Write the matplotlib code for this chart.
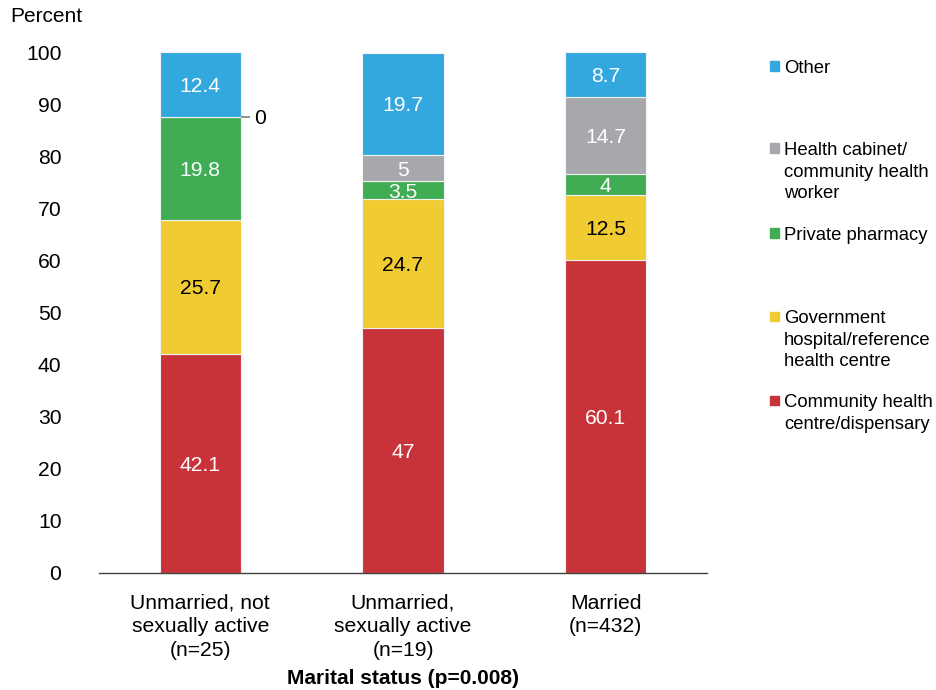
import matplotlib
matplotlib.use("Agg")
import matplotlib.pyplot as plt
import numpy as np

plt.rcParams['font.family'] = ['Liberation Sans', 'DejaVu Sans']

categories = ["Unmarried, not\nsexually active\n(n=25)",
              "Unmarried,\nsexually active\n(n=19)",
              "Married\n(n=432)"]
series_names = ["Community health\ncentre/dispensary",
                "Government\nhospital/reference\nhealth centre",
                "Private pharmacy",
                "Health cabinet/\ncommunity health\nworker",
                "Other"]
community = [42.1, 47, 60.1]
government = [25.7, 24.7, 12.5]
pharmacy = [19.8, 3.5, 4]
cabinet = [0, 5, 14.7]
other = [12.4, 19.7, 8.7]
yticks = [0, 10, 20, 30, 40, 50, 60, 70, 80, 90, 100]

colors = ["#C8333A", "#F0CB31", "#40AD55", "#A7A8AB", "#33A8DF"]
text_colors = ["white", "black", "white", "white", "white"]

fig = plt.figure(figsize=(9.36, 6.9), dpi=100)
W, H = 936, 690
ax = fig.add_axes([99 / W, 1 - 573 / H, (707 - 99) / W, (573 - 52) / H])

x = np.arange(len(categories))
bar_w = 0.4
bottom = np.zeros(len(categories))
all_series = [community, government, pharmacy, cabinet, other]
for vals, col, tcol in zip(all_series, colors, text_colors):
    vals = np.array(vals, dtype=float)
    ax.bar(x, vals, bar_w, bottom=bottom, color=col, edgecolor="#F2F2F2",
           linewidth=0.8)
    for xi, v, b in zip(x, vals, bottom):
        if v > 0:
            ax.text(xi, b + v / 2, f"{v:g}", ha="center",
                    va="center_baseline", color=tcol, fontsize=15.2)
        else:
            # zero-height segment: label outside with a short leader line
            ax.plot([xi + bar_w / 2, xi + bar_w / 2 + 0.045], [b, b],
                    color="#808080", lw=1.2, solid_capstyle="butt")
            ax.text(xi + bar_w / 2 + 0.065, b, f"{v:g}", ha="left",
                    va="center_baseline", color="black", fontsize=15.2)
    bottom += vals

ax.set_xlim(-0.5, 2.5)
ax.set_ylim(0, 100)
ax.set_yticks(yticks)
ax.set_yticklabels([str(t) for t in yticks], fontsize=15.2)
ax.set_xticks(x)
ax.set_xticklabels(categories, fontsize=15.2, linespacing=1.29)
ax.tick_params(axis="y", length=0, pad=27)
ax.tick_params(axis="x", length=0, pad=15)
for s in ["left", "right", "top"]:
    ax.spines[s].set_visible(False)
ax.spines["bottom"].set_color("#404040")
ax.spines["bottom"].set_linewidth(1.0)

fig.text(10 / W, 1 - 17 / H, "Percent", fontsize=15, ha="left", va="center")
fig.text(403 / W, 1 - 678 / H, "Marital status (p=0.008)", fontsize=15,
         fontweight="bold", ha="center", va="center")

# legend entries, drawn top to bottom
legend_y = [66, 148, 233, 316, 400]
for name, col, yy in zip(series_names[::-1], colors[::-1], legend_y):
    fig.patches.append(plt.Rectangle(((770) / W, 1 - (yy + 4.5) / H),
                                     9 / W, 9 / H, color=col,
                                     transform=fig.transFigure, figure=fig))
    fig.text(784 / W, 1 - (yy - 6) / H, name, fontsize=13.3, ha="left",
             va="top", linespacing=1.36)

fig.savefig("out.png", dpi=100)
